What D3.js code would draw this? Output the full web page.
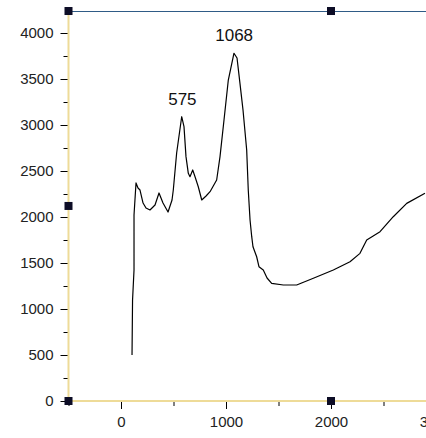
<!DOCTYPE html>
<html>
<head>
<meta charset="utf-8">
<script src="https://cdn.jsdelivr.net/npm/d3@7"></script>
<style>
  html, body { margin: 0; padding: 0; background: #fff; }
  svg { display: block; font-family: "Liberation Sans", Arial, sans-serif; }
</style>
</head>
<body>
<svg id="chart"></svg>
<script>
// -- DATA --
const specX = [105, 110, 124, 124, 143, 162, 181, 210, 238, 276, 324, 362, 400, 448, 486, 498,
  530, 578, 600, 619, 641, 657, 683, 705, 736, 769, 810, 848, 911, 943, 981, 1022, 1076, 1105,
  1133, 1162, 1197, 1212, 1229, 1245, 1257, 1292, 1314, 1355, 1391, 1435, 1546, 1673, 1832,
  2022, 2181, 2276, 2340, 2467, 2593, 2721, 2895];
const specY = [500, 1098, 1424, 2022, 2370, 2315, 2293, 2152, 2098, 2076, 2130, 2261, 2152, 2054,
  2185, 2293, 2696, 3090, 2982, 2656, 2475, 2438, 2511, 2438, 2329, 2185, 2228, 2275, 2402, 2656,
  3054, 3489, 3780, 3728, 3453, 3163, 2728, 2293, 1967, 1786, 1677, 1568, 1460, 1424, 1337, 1279,
  1261, 1261, 1334, 1424, 1514, 1605, 1750, 1840, 2003, 2148, 2258];
const peakLabels = ["575", "1068"];
const peakX = [575, 1068];
const peakY = [3090, 3780];
const xTicks = [0, 1000, 2000, 3000];
const xMinor = [-500, 500, 1500, 2500];
const yTicks = [0, 500, 1000, 1500, 2000, 2500, 3000, 3500, 4000];
const yMinor = [250, 750, 1250, 1750, 2250, 2750, 3250, 3750];
// handle markers on the frame, in data units
const handleX = [-500, -500, -500, 2000, 2000];
const handleY = [0, 2120, 4239, 0, 4239];

// -- LAYOUT --
const W = 426, H = 438;
const svg = d3.select("#chart").attr("width", W).attr("height", H);

const x = d3.scaleLinear().domain([-500, 3000]).range([68.5, 436]);
const y = d3.scaleLinear().domain([0, 4000]).range([401, 33]);
const yTop = 4239;

const axisColor = "#eedb98";
const textColor = "#222";

// top frame line
svg.append("line")
  .attr("x1", x(-500)).attr("x2", W)
  .attr("y1", Math.round(y(yTop)) + 0.5).attr("y2", Math.round(y(yTop)) + 0.5)
  .attr("stroke", "#2f5b86").attr("stroke-width", 1);

// minor ticks
svg.append("g")
  .attr("transform", `translate(0, ${y(0)})`)
  .call(d3.axisBottom(x).tickValues(xMinor).tickSize(5).tickFormat(""))
  .call((g) => g.select(".domain").remove())
  .call((g) => g.selectAll("line").attr("stroke", "#000"));
svg.append("g")
  .attr("transform", `translate(${x(-500)}, 0)`)
  .call(d3.axisLeft(y).tickValues(yMinor).tickSize(5).tickFormat(""))
  .call((g) => g.select(".domain").remove())
  .call((g) => g.selectAll("line").attr("stroke", "#000"));

// major ticks + labels
const gx = svg.append("g")
  .attr("transform", `translate(0, ${y(0)})`)
  .call(d3.axisBottom(x).tickValues(xTicks).tickSize(8).tickPadding(7).tickFormat(d3.format("d")));
gx.select(".domain").remove();
gx.selectAll("line").attr("stroke", "#000");
gx.selectAll("text").attr("fill", textColor).style("font-size", "15px");

const gy = svg.append("g")
  .attr("transform", `translate(${x(-500)}, 0)`)
  .call(d3.axisLeft(y).tickValues(yTicks).tickSize(8).tickPadding(7).tickFormat(d3.format("d")));
gy.select(".domain").remove();
gy.selectAll("line").attr("stroke", "#000");
gy.selectAll("text").attr("fill", textColor).style("font-size", "15px");

// axis lines (yellow)
svg.append("line")
  .attr("x1", x(-500)).attr("x2", W)
  .attr("y1", y(0)).attr("y2", y(0))
  .attr("stroke", axisColor).attr("stroke-width", 2);
svg.append("line")
  .attr("x1", x(-500)).attr("x2", x(-500))
  .attr("y1", y(yTop)).attr("y2", y(0))
  .attr("stroke", axisColor).attr("stroke-width", 2);

// spectrum line
const points = specX.map((d, i) => [d, specY[i]]);
svg.append("path")
  .datum(points)
  .attr("fill", "none")
  .attr("stroke", "#000")
  .attr("stroke-width", 1.2)
  .attr("stroke-linejoin", "round")
  .attr("d", d3.line().x((d) => x(d[0])).y((d) => y(d[1])));

// peak labels
svg.selectAll(".peak")
  .data(peakLabels)
  .enter()
  .append("text")
  .attr("class", "peak")
  .attr("x", (d, i) => x(peakX[i]) + 1)
  .attr("y", (d, i) => y(peakY[i]) - 12)
  .attr("text-anchor", "middle")
  .attr("fill", "#111")
  .style("font-size", "17px")
  .text((d) => d);

// frame handles
svg.selectAll(".handle")
  .data(handleX)
  .enter()
  .append("rect")
  .attr("class", "handle")
  .attr("x", (d) => x(d) - 4)
  .attr("y", (d, i) => y(handleY[i]) - 4)
  .attr("width", 8)
  .attr("height", 8)
  .attr("fill", "#0d0d26");
</script>
</body>
</html>
